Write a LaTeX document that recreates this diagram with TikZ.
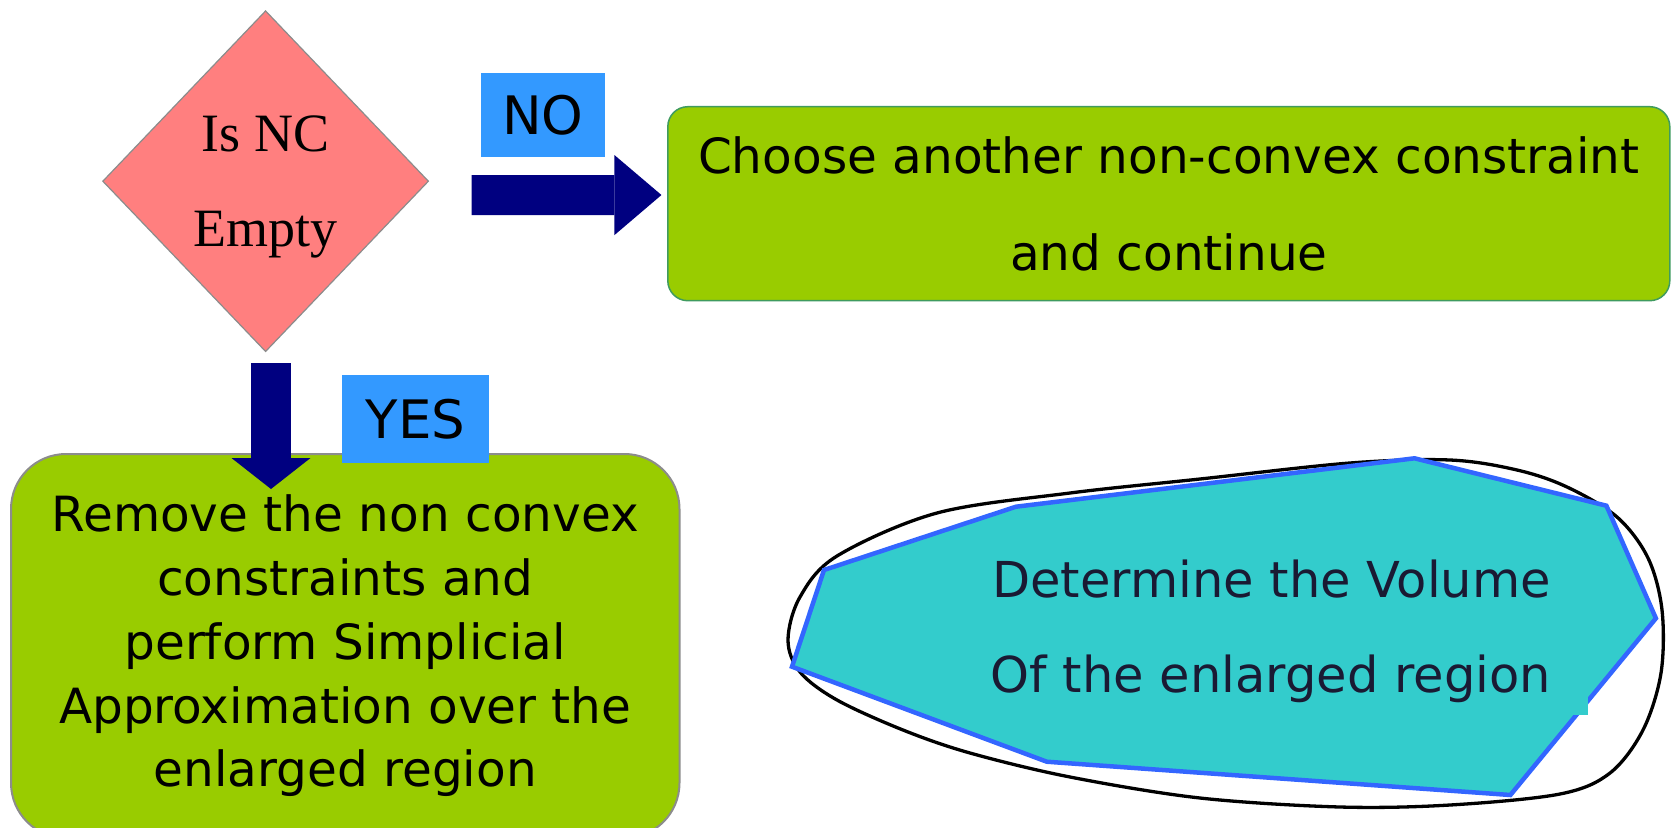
\documentclass[tikz,border=0pt]{standalone}
\usepackage{fontspec}
\setmainfont{DejaVu Sans}
\newfontfamily\serifface{Liberation Serif}
\usetikzlibrary{shapes.geometric,arrows.meta,calc}

\definecolor{salmon}{HTML}{FF7F7F}
\definecolor{limegreen}{HTML}{99CC00}
\definecolor{skyblue}{HTML}{3399FF}
\definecolor{navyblue}{HTML}{000080}
\definecolor{tealfill}{HTML}{33CCCC}
\definecolor{polyedge}{HTML}{3366FF}
\definecolor{inkdark}{HTML}{1A1A33}
\definecolor{boxedge}{HTML}{3F9B5F}
\definecolor{greyedge}{HTML}{8C8C8C}

\tikzset{
  decision/.style={diamond, aspect=1, draw=greyedge, line width=1.2pt, fill=salmon,
    minimum width=326pt, minimum height=341pt, inner sep=0pt, align=center,
    font=\serifface\fontsize{54}{95}\selectfont, text depth=0pt},
  flowbox/.style={rectangle, fill=limegreen, align=center, inner sep=0pt,
    font=\fontsize{48.5}{63.7}\selectfont},
  tagbox/.style={rectangle, fill=skyblue, inner sep=0pt,
    font=\fontsize{53}{60}\selectfont},
  blockarrow/.style={draw=navyblue, line width=40pt, line cap=butt},
  hull/.style={draw=polyedge, fill=tealfill, line width=4.5pt},
  outline/.style={draw=black, line width=3.3pt},
}

\begin{document}
\begin{tikzpicture}[x=1pt,y=-1pt]
\useasboundingbox (0,0) rectangle (1672,827);
\clip (0,0) rectangle (1672,827);

% decision
\node[decision] (dia) at (265.6,181.2) {Is NC\\Empty};

% the two outcome boxes
\node[flowbox, draw=boxedge, line width=1.5pt, rounded corners=20pt,
      minimum width=1002pt, minimum height=194pt,
      font=\fontsize{48.5}{96.7}\selectfont] (nobox) at (1168.8,203.7)
      {Choose another non-convex constraint\\and continue};
\node[flowbox, draw=greyedge, line width=2pt, rounded corners=55pt,
      minimum width=668.5pt, minimum height=384pt] (ybox) at (345.25,646)
      {Remove the non convex\\constraints and\\perform Simplicial\\Approximation over the\\enlarged region};

% enlarged region: smooth outline and polygonal hull
\draw[outline] plot[smooth cycle, tension=0.55] coordinates {
  (788,640) (800,597) (837,556) (937,513) (1070,493) (1200,479) (1350,463)
  (1450,460) (1517,470) (1567,487) (1617,517) (1648,558) (1662,610) (1661,673)
  (1643,730) (1610,773) (1560,794) (1450,805) (1340,807) (1200,798) (1070,777)
  (970,753) (903,730) (837,700) (800,672)};
\draw[hull] (1414.5,458.3) -- (1606.4,505.7) -- (1655.9,618.3) -- (1510.4,795)
  -- (1046.8,761.7) -- (792,666.7) -- (824,570) -- (1016,506.7) -- cycle;
\node[font=\fontsize{49.5}{95}\selectfont, text=inkdark, fill=tealfill, align=right,
      inner xsep=36.7pt, inner ysep=12pt, anchor=south east] (vol) at (1587.7,715)
      {Determine the Volume\\Of the enlarged region};

% connectors
\draw[blockarrow, -{Triangle[length=47pt,width=80pt,line width=0pt]},
      shorten <=42.4pt, shorten >=5.6pt]
  ([yshift=-14pt]dia.east) -- ([yshift=8.7pt]nobox.west);
\draw[blockarrow, -{Triangle[length=31pt,width=79pt,line width=0pt]},
      shorten <=11pt]
  ([xshift=5.4pt]dia.south) -- ([xshift=-74.25pt,yshift=-36pt]ybox.north);

% branch labels
\node[tagbox, minimum width=124.1pt, minimum height=83.7pt] (no) at (542.85,114.85) {NO};
\node[tagbox, minimum width=147pt, minimum height=87.7pt] (yes) at (415.5,418.85) {YES};
\end{tikzpicture}
\end{document}
